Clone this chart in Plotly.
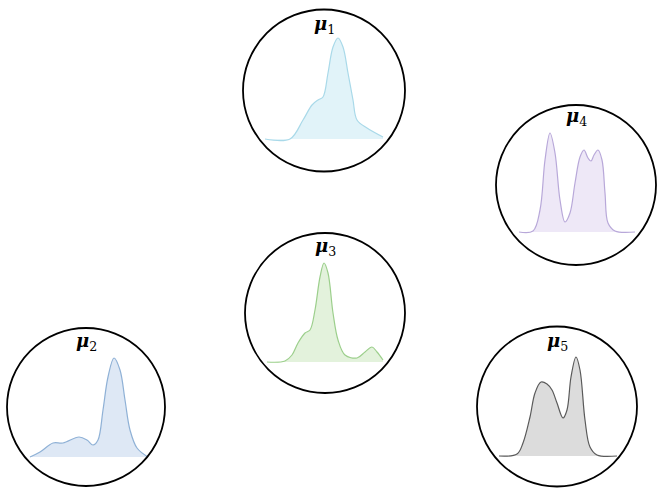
import plotly.graph_objects as go

W, H = 658, 488

# ---- data: density curves (x: horizontal position units, y: density height units) ----
mu1_x = [0, 25, 38, 47, 53, 58, 63, 68, 73, 78, 83, 88, 92, 102, 118]
mu1_y = [0, 0, 19, 34, 39, 42, 66, 92, 101, 92, 66, 39, 19, 11, 2]

mu2_x = [0, 10, 23, 33, 49, 57, 63, 68, 73, 78, 84, 90, 95, 100, 107, 118]
mu2_y = [0, 5, 14, 14, 20, 17, 12, 17, 47, 80, 99, 87, 57, 27, 9, 0]

mu3_x = [0, 18, 25, 31, 38, 43, 48, 53, 57, 61, 66, 71, 78, 90, 98, 105, 110, 116]
mu3_y = [0, 1, 7, 19, 29, 32, 52, 85, 99, 89, 49, 22, 7, 4, 10, 15, 10, 2]

mu4_x = [0, 14, 21, 26, 31, 36, 41, 46, 51, 56, 61, 65, 69, 72, 75, 79, 83, 86, 89, 96, 116]
mu4_y = [0, 1, 22, 72, 99, 79, 32, 10, 19, 49, 75, 82, 74, 71, 77, 82, 72, 39, 9, 1, 0]

mu5_x = [0, 18, 24, 31, 36, 42, 48, 53, 58, 64, 68, 72, 77, 81, 86, 91, 98, 118]
mu5_y = [0, 2, 13, 39, 63, 74, 72, 66, 53, 38, 46, 79, 99, 86, 36, 9, 1, 0]

labels = ["1", "2", "3", "4", "5"]
series_x = [mu1_x, mu2_x, mu3_x, mu4_x, mu5_x]
series_y = [mu1_y, mu2_y, mu3_y, mu4_y, mu5_y]

# ---- layout / style (pixel geometry of each panel) ----
# circle center (cx, cy), radius r, curve left edge px, baseline px, label y px
panels = [
    dict(cx=324, cy=90.5, r=81, left=265, base=139, lab=25),
    dict(cx=86, cy=407, r=79, left=30, base=457, lab=342),
    dict(cx=325, cy=313, r=80, left=267, base=362, lab=247),
    dict(cx=576, cy=185, r=80, left=519, base=232, lab=117),
    dict(cx=557, cy=406.5, r=80, left=499, base=456, lab=342),
]
line_cols = ["#a9d9e9", "#8fb1d6", "#9ccf8c", "#b8a8d9", "#5a5a5a"]
fill_cols = ["rgba(222,242,248,0.9)", "rgba(218,230,244,0.9)", "rgba(224,241,216,0.9)",
             "rgba(236,230,246,0.9)", "rgba(218,218,218,0.95)"]

fig = go.Figure()
shapes, annotations = [], []
layout_axes = {}
for i, p in enumerate(panels):
    n = "" if i == 0 else str(i + 1)
    xa, ya = "x" + n, "y" + n
    fig.add_trace(go.Scatter(
        x=series_x[i], y=series_y[i], mode="lines",
        line=dict(color=line_cols[i], width=1.2, shape="spline", smoothing=1.0),
        fill="tozeroy", fillcolor=fill_cols[i], hoverinfo="skip",
        xaxis=xa, yaxis=ya, showlegend=False))
    cx, cy, r = p["cx"], p["cy"], p["r"]
    x_dom = [(cx - r) / W, (cx + r) / W]
    y_dom = [1 - (cy + r) / H, 1 - (cy - r) / H]
    layout_axes["xaxis" + n] = dict(domain=x_dom, range=[cx - r - p["left"], cx + r - p["left"]],
                                    visible=False, fixedrange=True, anchor=ya)
    layout_axes["yaxis" + n] = dict(domain=y_dom, range=[p["base"] - (cy + r), p["base"] - (cy - r)],
                                    visible=False, fixedrange=True, anchor=xa)
    shapes.append(dict(type="circle", xref=xa + " domain", yref=ya + " domain",
                       x0=0, x1=1, y0=0, y1=1, line=dict(color="black", width=1.8)))
    annotations.append(dict(
        xref=xa + " domain", yref=ya + " domain", x=0.5,
        y=1 - (p["lab"] - (cy - r)) / (2 * r),
        text="<b><i>μ</i></b><sub><span style='color:black'>" + labels[i] + "</span></sub>",
        showarrow=False,
        font=dict(family="DejaVu Serif", size=18, color="black"),
        xanchor="center", yanchor="middle"))

fig.update_layout(width=W, height=H, margin=dict(l=0, r=0, t=0, b=0),
                  paper_bgcolor="white", plot_bgcolor="rgba(0,0,0,0)",
                  shapes=shapes, annotations=annotations, **layout_axes)

fig.write_html("out.html", config={"displayModeBar": False},
               post_script="document.body.style.margin='0px';document.body.style.overflow='hidden';")
